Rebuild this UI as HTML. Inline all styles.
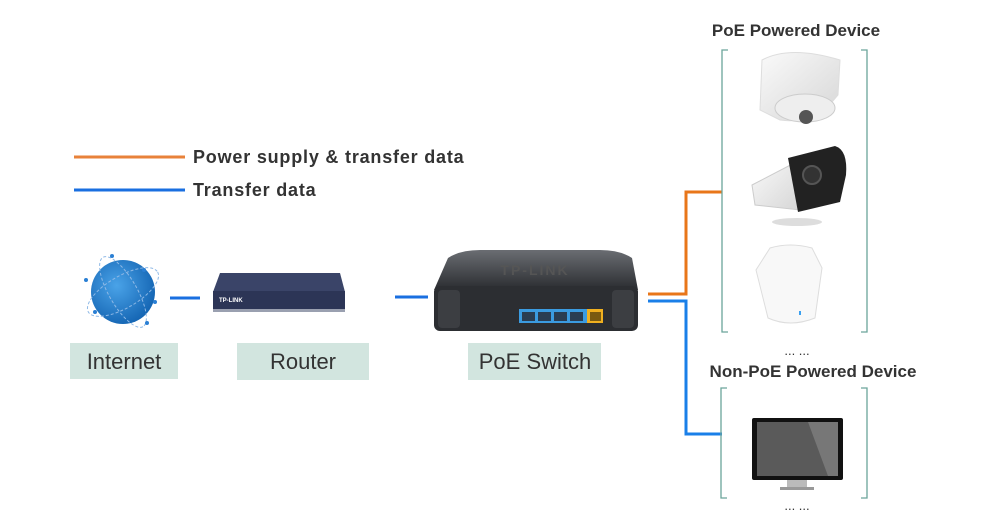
<!DOCTYPE html>
<html><head><meta charset="utf-8"><style>
html,body{margin:0;padding:0;background:#fff;}
svg{display:block;font-family:"Liberation Sans",sans-serif;}
</style></head><body>
<svg width="1000" height="528" viewBox="0 0 1000 528" xmlns="http://www.w3.org/2000/svg">
<defs>
<radialGradient id="gl" cx="0.4" cy="0.4" r="0.7"><stop offset="0" stop-color="#4aa3e8"/><stop offset="1" stop-color="#0f5fae"/></radialGradient>
<linearGradient id="sw" x1="0" y1="0" x2="0" y2="1"><stop offset="0" stop-color="#6a6d72"/><stop offset="1" stop-color="#2a2c30"/></linearGradient>
<linearGradient id="cam" x1="0" y1="0" x2="1" y2="1"><stop offset="0" stop-color="#fafafa"/><stop offset="1" stop-color="#d6d6d6"/></linearGradient>
</defs>
<!-- legend -->
<line x1="74" y1="157" x2="185" y2="157" stroke="#e8823a" stroke-width="3"/>
<line x1="74" y1="190" x2="185" y2="190" stroke="#1a6fe0" stroke-width="3"/>
<text x="193" y="163" font-size="18" font-weight="bold" fill="#333" letter-spacing="0.8">Power supply &amp; transfer data</text>
<text x="193" y="196" font-size="18" font-weight="bold" fill="#333" letter-spacing="0.8">Transfer data</text>
<!-- globe -->
<circle cx="123" cy="292" r="32" fill="url(#gl)"/>
<ellipse cx="123" cy="292" rx="40" ry="16" fill="none" stroke="#8fb9e6" stroke-width="1" stroke-dasharray="3 2" transform="rotate(-30 123 292)"/>
<ellipse cx="123" cy="292" rx="40" ry="14" fill="none" stroke="#8fb9e6" stroke-width="1" stroke-dasharray="3 2" transform="rotate(60 123 292)"/>
<circle cx="112" cy="256" r="2" fill="#2a7fd4"/><circle cx="144" cy="270" r="2" fill="#2a7fd4"/><circle cx="86" cy="280" r="2" fill="#2a7fd4"/><circle cx="147" cy="323" r="2" fill="#2a7fd4"/><circle cx="95" cy="312" r="2" fill="#2a7fd4"/><circle cx="155" cy="302" r="2" fill="#2a7fd4"/>
<!-- connectors -->
<line x1="170" y1="298" x2="200" y2="298" stroke="#1a6fe0" stroke-width="3"/>
<line x1="395" y1="297" x2="428" y2="297" stroke="#1a6fe0" stroke-width="3"/>
<polyline points="648,294 686,294 686,192 722,192" fill="none" stroke="#e8761a" stroke-width="3"/>
<polyline points="648,301 686,301 686,434 722,434" fill="none" stroke="#1a7fe8" stroke-width="3"/>
<!-- router -->
<polygon points="220,273 340,273 345,292 213,292" fill="#3a4468"/>
<rect x="213" y="291" width="132" height="20" fill="#2c3556"/>
<rect x="213" y="309" width="132" height="3" fill="#9aa0b0"/>
<text x="219" y="302" font-size="6" font-weight="bold" fill="#fff">TP-LINK</text>
<!-- switch -->
<path d="M448,258 Q460,250 480,250 L600,250 Q620,250 632,258 L638,290 L434,290 Z" fill="url(#sw)"/>
<rect x="434" y="286" width="204" height="45" rx="6" fill="#2c2e32"/>
<rect x="438" y="290" width="22" height="38" rx="4" fill="#3c3e42"/>
<rect x="612" y="290" width="22" height="38" rx="4" fill="#3c3e42"/>
<text x="535" y="275" font-size="14" font-weight="bold" fill="#555" text-anchor="middle" letter-spacing="2">TP-LINK</text>
<rect x="519" y="309" width="68" height="14" fill="#3b9be0"/>
<rect x="587" y="309" width="16" height="14" fill="#f0b020"/>
<g fill="#2a3d52"><rect x="522" y="312" width="13" height="9"/><rect x="538" y="312" width="13" height="9"/><rect x="554" y="312" width="13" height="9"/><rect x="570" y="312" width="13" height="9"/></g>
<rect x="590" y="312" width="11" height="9" fill="#7a5a10"/>
<!-- labels -->
<rect x="70" y="343" width="108" height="36" fill="#d2e5df"/>
<rect x="237" y="343" width="132" height="37" fill="#d2e5df"/>
<rect x="468" y="343" width="133" height="37" fill="#d2e5df"/>
<g font-size="22" fill="#333" text-anchor="middle">
<text x="124" y="369">Internet</text>
<text x="303" y="369">Router</text>
<text x="535" y="369">PoE Switch</text>
</g>
<!-- device section -->
<text x="796" y="36" font-size="17" font-weight="bold" fill="#333" text-anchor="middle">PoE Powered Device</text>
<text x="813" y="377" font-size="17" font-weight="bold" fill="#333" text-anchor="middle">Non-PoE Powered Device</text>
<text x="797" y="355" font-size="13" fill="#333" text-anchor="middle">... ...</text>
<text x="797" y="510" font-size="13" fill="#333" text-anchor="middle">... ...</text>
<g fill="none" stroke="#6aa59a" stroke-width="1.3">
<polyline points="728,50 722,50 722,332 728,332"/>
<polyline points="861,50 867,50 867,332 861,332"/>
<polyline points="727,388 721,388 721,498 727,498"/>
<polyline points="861,388 867,388 867,498 861,498"/>
</g>
<!-- dome camera -->
<path d="M762,60 Q790,45 840,60 L838,95 Q815,125 780,120 L760,110 Z" fill="url(#cam)" stroke="#ddd"/>
<ellipse cx="805" cy="108" rx="30" ry="14" fill="#eee" stroke="#ccc"/>
<circle cx="806" cy="117" r="7" fill="#555"/>
<!-- bullet camera -->
<path d="M752,185 L800,160 L800,210 L755,205 Z" fill="url(#cam)" stroke="#ccc"/>
<path d="M788,158 L835,146 Q848,150 846,175 L840,202 L798,212 Z" fill="#222"/>
<circle cx="812" cy="175" r="9" fill="#333" stroke="#555" stroke-width="2"/>
<ellipse cx="797" cy="222" rx="25" ry="4" fill="#ddd"/>
<!-- AP -->
<path d="M770,248 Q790,242 812,248 L822,268 L815,318 Q790,328 768,318 L756,270 Z" fill="#f8f8f8" stroke="#ddd"/>
<rect x="799" y="311" width="2" height="4" fill="#3aa0f0"/>
<!-- monitor -->
<rect x="752" y="418" width="91" height="62" rx="2" fill="#111"/>
<rect x="757" y="422" width="81" height="54" fill="#5a5a5a"/>
<polygon points="808,422 838,422 838,476 828,476" fill="#777"/>
<rect x="787" y="480" width="20" height="8" fill="#bbb"/>
<rect x="780" y="487" width="34" height="3" fill="#999"/>
</svg>
</body></html>
